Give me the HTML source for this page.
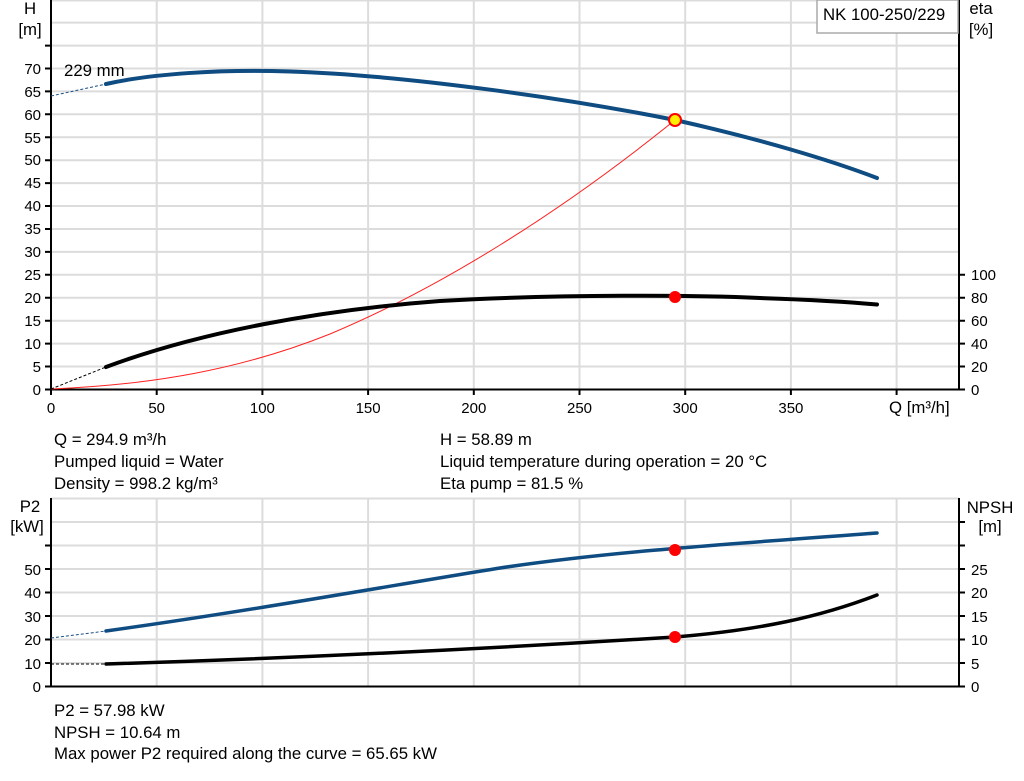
<!DOCTYPE html>
<html><head><meta charset="utf-8"><style>
body{margin:0;background:#fff;width:1024px;height:781px;overflow:hidden}
svg{display:block}
text{font-family:"Liberation Sans",Arial,sans-serif;font-size:15px;fill:#000}
.b{font-size:16.8px}
</style></head><body>
<svg width="1024" height="781" viewBox="0 0 1024 781">
<g stroke="#dcdcdc" stroke-width="2">
<line x1="51" x2="959" y1="366.5" y2="366.5"/><line x1="51" x2="959" y1="343.6" y2="343.6"/><line x1="51" x2="959" y1="320.7" y2="320.7"/><line x1="51" x2="959" y1="297.7" y2="297.7"/><line x1="51" x2="959" y1="274.8" y2="274.8"/><line x1="51" x2="959" y1="251.9" y2="251.9"/><line x1="51" x2="959" y1="229" y2="229"/><line x1="51" x2="959" y1="206" y2="206"/><line x1="51" x2="959" y1="183.1" y2="183.1"/><line x1="51" x2="959" y1="160.2" y2="160.2"/><line x1="51" x2="959" y1="137.3" y2="137.3"/><line x1="51" x2="959" y1="114.3" y2="114.3"/><line x1="51" x2="959" y1="91.4" y2="91.4"/><line x1="51" x2="959" y1="68.5" y2="68.5"/><line x1="51" x2="959" y1="45.6" y2="45.6"/><line x1="51" x2="959" y1="22.6" y2="22.6"/><line x1="51" x2="959" y1="0.5" y2="0.5"/>
<line x1="156.7" x2="156.7" y1="0" y2="389"/><line x1="262.4" x2="262.4" y1="0" y2="389"/><line x1="368.1" x2="368.1" y1="0" y2="389"/><line x1="473.8" x2="473.8" y1="0" y2="389"/><line x1="579.5" x2="579.5" y1="0" y2="389"/><line x1="685.2" x2="685.2" y1="0" y2="389"/><line x1="790.9" x2="790.9" y1="0" y2="389"/><line x1="896.6" x2="896.6" y1="0" y2="389"/>
<line x1="51" x2="959" y1="663" y2="663"/><line x1="51" x2="959" y1="639.5" y2="639.5"/><line x1="51" x2="959" y1="616" y2="616"/><line x1="51" x2="959" y1="592.5" y2="592.5"/><line x1="51" x2="959" y1="569" y2="569"/><line x1="51" x2="959" y1="545.5" y2="545.5"/><line x1="51" x2="959" y1="522" y2="522"/><line x1="51" x2="959" y1="498.5" y2="498.5"/>
<line x1="156.7" x2="156.7" y1="498" y2="686"/><line x1="262.4" x2="262.4" y1="498" y2="686"/><line x1="368.1" x2="368.1" y1="498" y2="686"/><line x1="473.8" x2="473.8" y1="498" y2="686"/><line x1="579.5" x2="579.5" y1="498" y2="686"/><line x1="685.2" x2="685.2" y1="498" y2="686"/><line x1="790.9" x2="790.9" y1="498" y2="686"/><line x1="896.6" x2="896.6" y1="498" y2="686"/>
</g>
<g stroke="#000" stroke-width="2" fill="none">
<path d="M51 0V389.5H959"/><path d="M959 0V389.5"/>
<path d="M51 498V686.5H959"/><path d="M959 498V686.5"/>
</g>
<g stroke="#000" stroke-width="2">
<path d="M45 389.5h6M45 366.5h6M45 343.6h6M45 320.7h6M45 297.7h6M45 274.8h6M45 251.9h6M45 229h6M45 206h6M45 183.1h6M45 160.2h6M45 137.3h6M45 114.3h6M45 91.4h6M45 68.5h6M45 45.6h6"/>
<path d="M51 389v6M156.7 389v6M262.4 389v6M368.1 389v6M473.8 389v6M579.5 389v6M685.2 389v6M790.9 389v6M896.6 389v6"/>
<path d="M959 389.5h6M959 366.5h6M959 343.6h6M959 320.7h6M959 297.7h6M959 274.8h6"/>
<path d="M45 686.5h6M45 663h6M45 639.5h6M45 616h6M45 592.5h6M45 569h6M45 545.5h6"/>
<path d="M959 686.5h6M959 663h6M959 639.5h6M959 616h6M959 592.5h6M959 569h6M959 545.5h6M959 522h6"/>
</g>
<g text-anchor="end">
<text x="41" y="395">0</text><text x="41" y="372">5</text><text x="41" y="349">10</text><text x="41" y="326">15</text><text x="41" y="303">20</text><text x="41" y="280">25</text><text x="41" y="257">30</text><text x="41" y="234">35</text><text x="41" y="211">40</text><text x="41" y="188">45</text><text x="41" y="165">50</text><text x="41" y="120">60</text><text x="41" y="143">55</text><text x="41" y="97">65</text><text x="41" y="74">70</text>
<text x="41" y="692">0</text><text x="41" y="669">10</text><text x="41" y="645">20</text><text x="41" y="622">30</text><text x="41" y="598">40</text><text x="41" y="575">50</text>
</g>
<g text-anchor="middle">
<text x="51" y="413">0</text><text x="156.7" y="413">50</text><text x="262.4" y="413">100</text><text x="368.1" y="413">150</text><text x="473.8" y="413">200</text><text x="579.5" y="413">250</text><text x="685.2" y="413">300</text><text x="790.9" y="413">350</text>
<text class="b" x="30" y="14">H</text><text class="b" x="30" y="35">[m]</text>
<text class="b" x="981" y="14">eta</text><text class="b" x="981" y="35">[%]</text>
<text class="b" x="30" y="512">P2</text><text class="b" x="27" y="532">[kW]</text>
<text class="b" x="990" y="513">NPSH</text><text class="b" x="990" y="532">[m]</text>
</g>
<text class="b" x="889" y="413">Q [m³/h]</text>
<g>
<text x="971" y="395">0</text><text x="971" y="372">20</text><text x="971" y="349">40</text><text x="971" y="326">60</text><text x="971" y="303">80</text><text x="971" y="280">100</text>
<text x="971" y="692">0</text><text x="971" y="669">5</text><text x="971" y="645">10</text><text x="971" y="622">15</text><text x="971" y="598">20</text><text x="971" y="575">25</text>
</g>
<rect x="817" y="0" width="141" height="33" fill="#fff" stroke="#aaa" stroke-width="1.5"/>
<text class="b" x="823" y="20">NK 100-250/229</text>
<text class="b" x="64" y="76">229 mm</text>
<line x1="51" y1="96" x2="106" y2="84" stroke="#1a4f86" stroke-width="1" stroke-dasharray="3,2"/>
<path fill="none" stroke="#0f4c81" stroke-width="4" stroke-linecap="round" d="M106,84 C150,74 220,69 290,71.5 C400,75 560,97 675,120 C760,139 830,160 877,178"/>
<path fill="none" stroke="#ff2020" stroke-width="1" d="M51,389 C150,385 240,370 330,334 C440,288 560,213 675,120"/>
<line x1="51" y1="389" x2="106" y2="367" stroke="#000" stroke-width="1" stroke-dasharray="3,2"/>
<path fill="none" stroke="#000" stroke-width="4" stroke-linecap="round" d="M106,367 C200,332 320,310 440,301 C560,294 700,295 760,298 C820,300 850,302 877,304.5"/>
<circle cx="675" cy="297" r="6" fill="#ff0000"/>
<circle cx="675" cy="120" r="6" fill="#ffee00" stroke="#ff0000" stroke-width="2"/>
<text class="b" x="54" y="445">Q = 294.9 m³/h</text>
<text class="b" x="54" y="467">Pumped liquid = Water</text>
<text class="b" x="54" y="489">Density = 998.2 kg/m³</text>
<text class="b" x="440" y="445">H = 58.89 m</text>
<text class="b" x="440" y="467">Liquid temperature during operation = 20 °C</text>
<text class="b" x="440" y="489">Eta pump = 81.5 %</text>
<line x1="51" y1="638" x2="106" y2="631" stroke="#1a4f86" stroke-width="1" stroke-dasharray="3,2"/>
<path fill="none" stroke="#0f4c81" stroke-width="3.5" stroke-linecap="round" d="M106,631 C250,611 400,584 500,568 C600,553 700,546 877,533"/>
<line x1="51" y1="664" x2="106" y2="664" stroke="#000" stroke-width="1" stroke-dasharray="3,2"/>
<path fill="none" stroke="#000" stroke-width="3.5" stroke-linecap="round" d="M106,664 C300,658 500,648 675,637 C760,630 820,617 877,595"/>
<circle cx="675" cy="550" r="6" fill="#ff0000"/>
<circle cx="675" cy="637" r="6" fill="#ff0000"/>
<text class="b" x="54" y="716">P2 = 57.98 kW</text>
<text class="b" x="54" y="738">NPSH = 10.64 m</text>
<text class="b" x="54" y="759">Max power P2 required along the curve = 65.65 kW</text>
</svg>
</body></html>
